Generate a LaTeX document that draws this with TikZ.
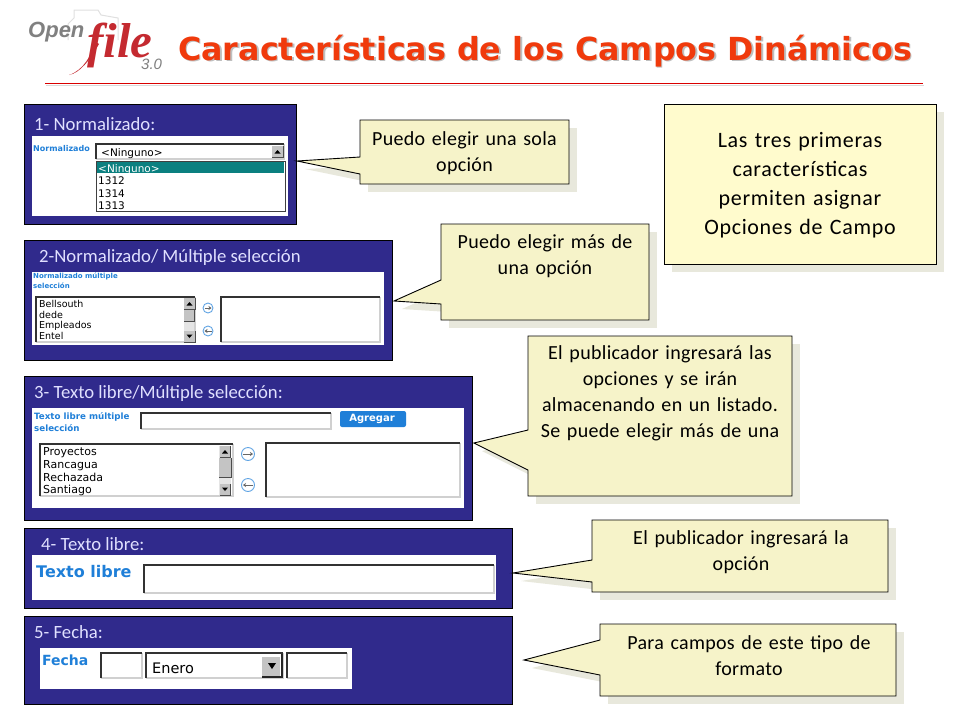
\documentclass[tikz,border=0pt]{standalone}
\usepackage{fontspec}
\setmainfont{Carlito}
\newfontfamily\callfont[LetterSpace=1.5]{Carlito}
\newfontfamily\bigfont[LetterSpace=3]{Carlito}
\newfontfamily\titlefont{DejaVu Sans}
\newfontfamily\webfont{DejaVu Sans}
\newfontfamily\boldweb{DejaVu Sans}
\newfontfamily\logofont{Liberation Serif}
\newfontfamily\logosans{Liberation Sans}
\usetikzlibrary{arrows.meta}
\definecolor{panelblue}{HTML}{302A8C}
\definecolor{callfill}{HTML}{F6F3C9}
\definecolor{bigfill}{HTML}{FFFBCD}
\definecolor{shadowc}{HTML}{E8E8DC}
\definecolor{titlered}{HTML}{F03A0C}
\definecolor{logored}{HTML}{C42A30}
\definecolor{linkblue}{HTML}{1F7FD8}
\definecolor{teal}{HTML}{0B8080}
\definecolor{bevel}{HTML}{D0D0D0}
\definecolor{scrollg}{HTML}{C4C4C4}
\newcommand{\px}[1]{\fontsize{#1}{#1}\selectfont}
\newcommand{\pxl}[2]{\fontsize{#1}{#2}\selectfont}
\tikzset{
  x=1pt,y=-1pt,
  panel/.style={fill=panelblue,draw=black,line width=1pt},
  whitebox/.style={fill=white,draw=none},
  callout/.style={fill=callfill,draw=black,line width=0.9pt,line join=miter},
  callshadow/.style={fill=shadowc,draw=none},
  calltext/.style={align=center,inner sep=0pt,text=black,font=\callfont\pxl{20}{26},text width=#1},
  paneltitle/.style={anchor=base west,inner sep=0pt,text=white!88!blue,font=\px{18.7}},
  fieldlabel/.style={anchor=base west,inner sep=0pt,text=linkblue,align=left,font=\boldweb\bfseries\px{#1}},
  multilabel/.style={anchor=north west,inner sep=0pt,text=linkblue,align=left,font=\boldweb\bfseries\pxl{#1}{10.5}},
  item/.style={anchor=base west,inner sep=0pt,text=black,font=\webfont\px{#1}},
  arrowbtn/.style={circle,fill=white,draw=linkblue!70,line width=0.9pt,minimum size=11pt,inner sep=0pt},
  arrowline/.style={-{Stealth[length=3pt,width=4pt]},black!60,line width=.8pt},
}
\newcommand{\sunken}[4]{%
  \fill[white] (#1,#2) rectangle (#3,#4);
  \draw[bevel,line width=1.2pt] (#1,#4) -- (#3,#4) -- (#3,#2);
  \draw[black!80,line width=1.2pt] (#1,#4) -- (#1,#2) -- (#3,#2);
}
\newcommand{\scrollbtn}[3]{% x y up/down(+/-)
  \fill[scrollg] (#1,#2) rectangle ++(11,11);
  \draw[black!70,line width=0.7pt] (#1+11,#2) -- ++(0,11) -- ++(-11,0);
  \fill[black] (#1+2.5,#2+5.5+#3*2) -- ++(6,0) -- ++(-3,#3*-3.5) -- cycle;
}
\begin{document}
\begin{tikzpicture}
\useasboundingbox (0,0) rectangle (960,720);
\fill[white] (0,0) rectangle (960,720);

% logo
\draw[black!12,line width=1pt,line join=round] (68,40) -- (68,24) -- (74,18) -- (74,10) -- (98,10) -- (101,15) -- (118,18) -- (118,40);
\node[anchor=base west,inner sep=0pt,text=black!50] (logoopen) at (28,37) {\logosans\bfseries\itshape\px{22}Open};
\node[anchor=base west,inner sep=0pt,text=logored] (logofile) at (87,57) {\logofont\bfseries\itshape\px{49}file};
\fill[logored] (96,42) .. controls (91,55) and (84,70) .. (69,75) .. controls (80,73) and (90,60) .. (99,44) -- cycle;
\node[anchor=base west,inner sep=0pt,text=black!50] (logoversion) at (141,69.5) {\logosans\itshape\px{15}3.0};

% title
\node[anchor=base west,inner sep=0pt,text=black!25] (titleshadow) at (179.5,61.5) {\titlefont\bfseries\px{31.75}Características de los Campos Dinámicos};
\node[anchor=base west,inner sep=0pt,text=titlered] (title) at (178,60) {\titlefont\bfseries\px{31.75}Características de los Campos Dinámicos};
\draw[black!15,line width=1pt] (46,85) -- (924,85);
\draw[red!85!black,line width=0.9pt] (45,83.5) -- (923,83.5);

% panels
\draw[panel] (24,104) rectangle (296,224);
\fill[whitebox] (32,136) rectangle (288,216);
\node[paneltitle] (p1) at (34,130) {1- Normalizado:};
\node[fieldlabel=8] (l1) at (33,151) {Normalizado};
\sunken{96}{144}{284}{159}
\node[item=10.5] (s1) at (101,156) {<Ninguno>};
\scrollbtn{272}{146}{1}
\fill[white] (96,161) rectangle (285,211);
\draw[black!75,line width=1pt] (96,161) rectangle (285,211);
\fill[teal] (97,162) rectangle (284,173);
\node[item=10.5,text=white] (o0) at (98,172) {<Ninguno>};
\node[item=10.5] (o1) at (98,184) {1312};
\node[item=10.5] (o2) at (98,197) {1314};
\node[item=10.5] (o3) at (98,209) {1313};

\draw[panel] (24,240) rectangle (392,360);
\fill[whitebox] (32,272) rectangle (384,345);
\node[paneltitle] (p2) at (39,262) {2-Normalizado/ Múltiple selección};
\node[multilabel=7] (l2) at (33,272.5) {Normalizado múltiple\\selección};
\sunken{36}{297}{195}{342}
\node[item=9.5] (a1) at (39,307) {Bellsouth};
\node[item=9.5] (a2) at (39,318) {dede};
\node[item=9.5] (a3) at (39,328) {Empleados};
\node[item=9.5] (a4) at (39,339) {Entel};
\fill[black!10] (184,298) rectangle (194,341);
\fill[scrollg] (184,309) rectangle (194,321);
\draw[black!70,line width=.6pt] (194,309) -- (194,321) -- (184,321);
\scrollbtn{184}{298}{1}
\scrollbtn{184}{331}{-1}
\node[arrowbtn,minimum size=10pt] (b1) at (208,308) {};
\node[arrowbtn,minimum size=10pt] (b2) at (208,331) {};
\draw[arrowline] (204.5,308) -- (211.5,308);
\draw[arrowline] (211.5,331) -- (204.5,331);
\sunken{221}{297}{380}{342}

\draw[panel] (24,376) rectangle (472,520);
\fill[whitebox] (32,408) rectangle (464,508);
\node[paneltitle] (p3) at (34,398) {3- Texto libre/Múltiple selección:};
\node[multilabel=8.7,font=\boldweb\bfseries\pxl{8.7}{12}] (l3) at (34,412) {Texto libre múltiple\\selección};
\sunken{141}{413}{331}{429}
\fill[linkblue,rounded corners=2pt] (340,411) rectangle (406,427);
\node[anchor=center,inner sep=0pt,text=white,font=\boldweb\bfseries\px{10}] (agregar) at (372,419) {Agregar};
\sunken{40}{444}{233}{496}
\node[item=11] (c1) at (43,455) {Proyectos};
\node[item=11] (c2) at (43,468) {Rancagua};
\node[item=11] (c3) at (43,481) {Rechazada};
\node[item=11] (c4) at (43,493) {Santiago};
\fill[black!10] (219,446) rectangle (231,495);
\fill[scrollg] (219,458) rectangle (231,477);
\draw[black!70,line width=.6pt] (231,458) -- (231,477) -- (219,477);
\scrollbtn{219.5}{446}{1}
\scrollbtn{219.5}{484}{-1}
\node[arrowbtn,minimum size=13pt] (b3) at (248,454) {};
\node[arrowbtn,minimum size=13pt] (b4) at (248,485) {};
\draw[arrowline] (243,454) -- (253,454);
\draw[arrowline] (253,485) -- (243,485);
\sunken{266}{443}{460}{497}

\draw[panel] (24,528) rectangle (512,608);
\fill[whitebox] (32,555) rectangle (496,600);
\node[paneltitle] (p4) at (41,550) {4- Texto libre:};
\node[fieldlabel=16] (l4) at (36,577.5) {Texto libre};
\sunken{144}{565}{494}{593}

\draw[panel] (24,616) rectangle (512,704);
\fill[whitebox] (40,648) rectangle (352,689);
\node[paneltitle] (p5) at (34,638) {5- Fecha:};
\node[fieldlabel=14] (l5) at (42,665) {Fecha};
\sunken{101}{653}{142}{678}
\sunken{146}{653}{283}{678}
\node[item=14.5] (s5) at (152,673) {Enero};
\fill[scrollg] (262,657) rectangle (280,676);
\draw[black!85,line width=1.2pt] (262,677) -- (282,677) -- (282,654);
\fill[black] (268,663) -- (276,663) -- (272,669) -- cycle;
\sunken{287}{653}{347}{678}

% callout shadows
\fill[callshadow] (368,128) rectangle (577,192);
\fill[callshadow] (305,169) -- (368,166) -- (368,182) -- cycle;
\fill[callshadow] (449,232) rectangle (657,328);
\fill[callshadow] (402,309) -- (449,288) -- (449,312) -- cycle;
\fill[callshadow] (536,344) rectangle (800,504);
\fill[callshadow] (482,451) -- (536,438) -- (536,478) -- cycle;
\fill[callshadow] (600,528) rectangle (896,600);
\fill[callshadow] (521,581) -- (600,568) -- (600,590) -- cycle;
\fill[callshadow] (608,632) rectangle (904,704);
\fill[callshadow] (532,668) -- (608,648) -- (608,683) -- cycle;
\fill[callshadow] (672,112) rectangle (944,272);

% callouts
\draw[callout] (360,120) -- (569,120) -- (569,184) -- (360,184) -- (360,174) -- (297,161) -- (360,157) -- cycle;
\node[calltext=200pt] (t1) at (464.5,153) {Puedo elegir una sola\\opción};
\draw[callout] (441,224) -- (649,224) -- (649,320) -- (441,320) -- (441,304) -- (394,301) -- (441,280) -- cycle;
\node[calltext=200pt] (t2) at (545,256) {Puedo elegir más de\\una opción};
\draw[callout] (528,336) -- (792,336) -- (792,496) -- (528,496) -- (528,470) -- (474,443) -- (528,430) -- cycle;
\node[calltext=260pt] (t3) at (660,393) {El publicador ingresará las\\opciones y se irán\\almacenando en un listado.\\Se puede elegir más de una};
\draw[callout] (592,520) -- (888,520) -- (888,592) -- (592,592) -- (592,582) -- (513,573) -- (592,560) -- cycle;
\node[calltext=280pt] (t4) at (741,552) {El publicador ingresará la\\opción};
\draw[callout] (600,624) -- (896,624) -- (896,696) -- (600,696) -- (600,675) -- (524,660) -- (600,640) -- cycle;
\node[calltext=280pt] (t5) at (749,656) {Para campos de este tipo de\\formato};
\draw[callout,fill=bigfill] (664,104) rectangle (936,264);
\node[calltext=260pt,font=\bigfont\pxl{22}{29}] (t6) at (800,185) {Las tres primeras\\características\\permiten asignar\\Opciones de Campo};
\end{tikzpicture}
\end{document}
